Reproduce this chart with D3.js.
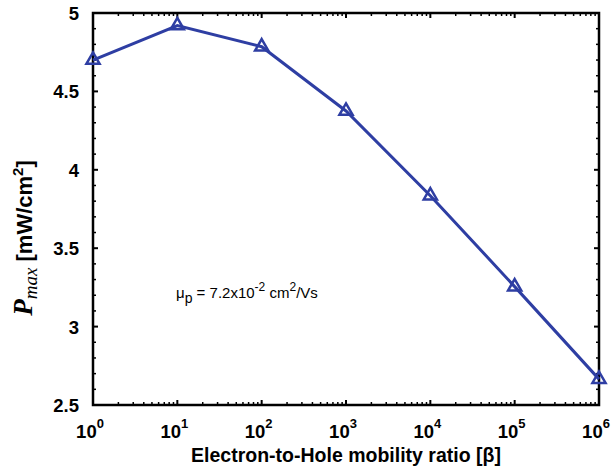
<!DOCTYPE html>
<html>
<head>
<meta charset="utf-8">
<script src="https://cdn.jsdelivr.net/npm/d3@7"></script>
<style>
  body { margin: 0; background: #fff; }
  text { font-family: "Liberation Sans", Arial, sans-serif; }
</style>
</head>
<body>
<div id="chart"></div>
<script>
// mobility ratio beta and Pmax values
const beta = [1, 10, 100, 1000, 10000, 100000, 1000000];
const pmax = [4.70, 4.92, 4.785, 4.375, 3.835, 3.255, 2.665];
const yTicks = [2.5, 3, 3.5, 4, 4.5, 5];
const xExponents = [0, 1, 2, 3, 4, 5, 6];

const width = 613, height = 470;
const margin = { left: 93, right: 14, top: 13, bottom: 65 };
const innerW = width - margin.left - margin.right;
const innerH = height - margin.top - margin.bottom;
const lineColor = "#2e3ea3";

const svg = d3.select("#chart").append("svg")
    .attr("width", width)
    .attr("height", height);

const x = d3.scaleLog().domain([1, 1e6]).range([margin.left, margin.left + innerW]);
const y = d3.scaleLinear().domain([2.5, 5]).range([margin.top + innerH, margin.top]);

// minor ticks
const xMinor = [];
for (let e = 0; e < 6; e++) {
    for (let k = 2; k <= 9; k++) xMinor.push(k * Math.pow(10, e));
}
const yMinor = d3.range(25, 51).map(d => d / 10).filter(d => !yTicks.some(t => Math.abs(t - d) < 1e-9));

const ticks = svg.append("g").attr("stroke", "#000");
// x ticks, bottom and top, pointing inward
[[y(2.5), -1], [y(5), 1]].forEach(([yy, dir]) => {
    ticks.selectAll(null).data(xExponents).enter().append("line")
        .attr("x1", d => x(Math.pow(10, d))).attr("x2", d => x(Math.pow(10, d)))
        .attr("y1", yy).attr("y2", yy + dir * 5)
        .attr("stroke-width", 2);
    ticks.selectAll(null).data(xMinor).enter().append("line")
        .attr("x1", d => x(d)).attr("x2", d => x(d))
        .attr("y1", yy).attr("y2", yy + dir * 3)
        .attr("stroke-width", 1.5);
});
// y ticks, left and right
[[x(1), 1], [x(1e6), -1]].forEach(([xx, dir]) => {
    ticks.selectAll(null).data(yTicks).enter().append("line")
        .attr("y1", d => y(d)).attr("y2", d => y(d))
        .attr("x1", xx).attr("x2", xx + dir * 5)
        .attr("stroke-width", 2);
    ticks.selectAll(null).data(yMinor).enter().append("line")
        .attr("y1", d => y(d)).attr("y2", d => y(d))
        .attr("x1", xx).attr("x2", xx + dir * 3)
        .attr("stroke-width", 1.5);
});

// frame
svg.append("rect")
    .attr("x", margin.left).attr("y", margin.top)
    .attr("width", innerW).attr("height", innerH)
    .attr("fill", "none").attr("stroke", "#000").attr("stroke-width", 2.5);

// y tick labels
svg.append("g").selectAll("text").data(yTicks).enter().append("text")
    .attr("x", margin.left - 14)
    .attr("y", d => y(d) + 7)
    .attr("text-anchor", "end")
    .attr("font-size", 18.5).attr("font-weight", "bold")
    .text(d => d);

// x tick labels 10^n
const xl = svg.append("g").selectAll("text").data(xExponents).enter().append("text")
    .attr("x", d => x(Math.pow(10, d)) - 3)
    .attr("y", 438)
    .attr("text-anchor", "middle")
    .attr("font-size", 18.5).attr("font-weight", "bold");
xl.append("tspan").text("10");
xl.append("tspan").attr("dy", -10).attr("font-size", 13).text(d => d);

// x axis title
svg.append("text")
    .attr("x", 346)
    .attr("y", 462)
    .attr("text-anchor", "middle")
    .attr("font-size", 19.5).attr("font-weight", "bold")
    .text("Electron-to-Hole mobility ratio [β]");

// y axis title
const yt = svg.append("text")
    .attr("transform", `translate(32, 238) rotate(-90)`)
    .attr("text-anchor", "middle");
yt.append("tspan")
    .attr("font-family", "'Liberation Serif', 'Times New Roman', serif")
    .attr("font-style", "italic").attr("font-weight", "bold").attr("font-size", 27)
    .text("P");
yt.append("tspan")
    .attr("font-family", "'Liberation Serif', 'Times New Roman', serif")
    .attr("font-style", "italic").attr("font-size", 19).attr("dy", 5)
    .text("max");
yt.append("tspan").attr("dy", -5).attr("font-size", 22).attr("font-weight", "bold").text(" [mW/cm");
yt.append("tspan").attr("dy", -9).attr("font-size", 15).attr("font-weight", "bold").text("2");
yt.append("tspan").attr("dy", 9).attr("font-size", 22).attr("font-weight", "bold").text("]");

// annotation
const ann = svg.append("text")
    .attr("x", 176).attr("y", 298)
    .attr("font-size", 15);
ann.append("tspan").text("μ");
ann.append("tspan").attr("dy", 5).attr("font-size", 14).text("p");
ann.append("tspan").attr("dy", -5).text(" = 7.2x10");
ann.append("tspan").attr("dy", -7).attr("font-size", 12).text("-2");
ann.append("tspan").attr("dy", 7).text(" cm");
ann.append("tspan").attr("dy", -7).attr("font-size", 12).text("2");
ann.append("tspan").attr("dy", 7).text("/Vs");

// data line
const data = beta.map((b, i) => ({ b, p: pmax[i] }));
svg.append("path")
    .datum(data)
    .attr("fill", "none")
    .attr("stroke", lineColor)
    .attr("stroke-width", 3)
    .attr("d", d3.line().x(d => x(d.b)).y(d => y(d.p)));

const tri = d3.symbol().type(d3.symbolTriangle).size(75);
svg.append("g").selectAll("path").data(data).enter().append("path")
    .attr("transform", d => `translate(${x(d.b)},${y(d.p)})`)
    .attr("d", tri)
    .attr("fill", "none")
    .attr("stroke", lineColor)
    .attr("stroke-width", 2.5);
</script>
</body>
</html>
